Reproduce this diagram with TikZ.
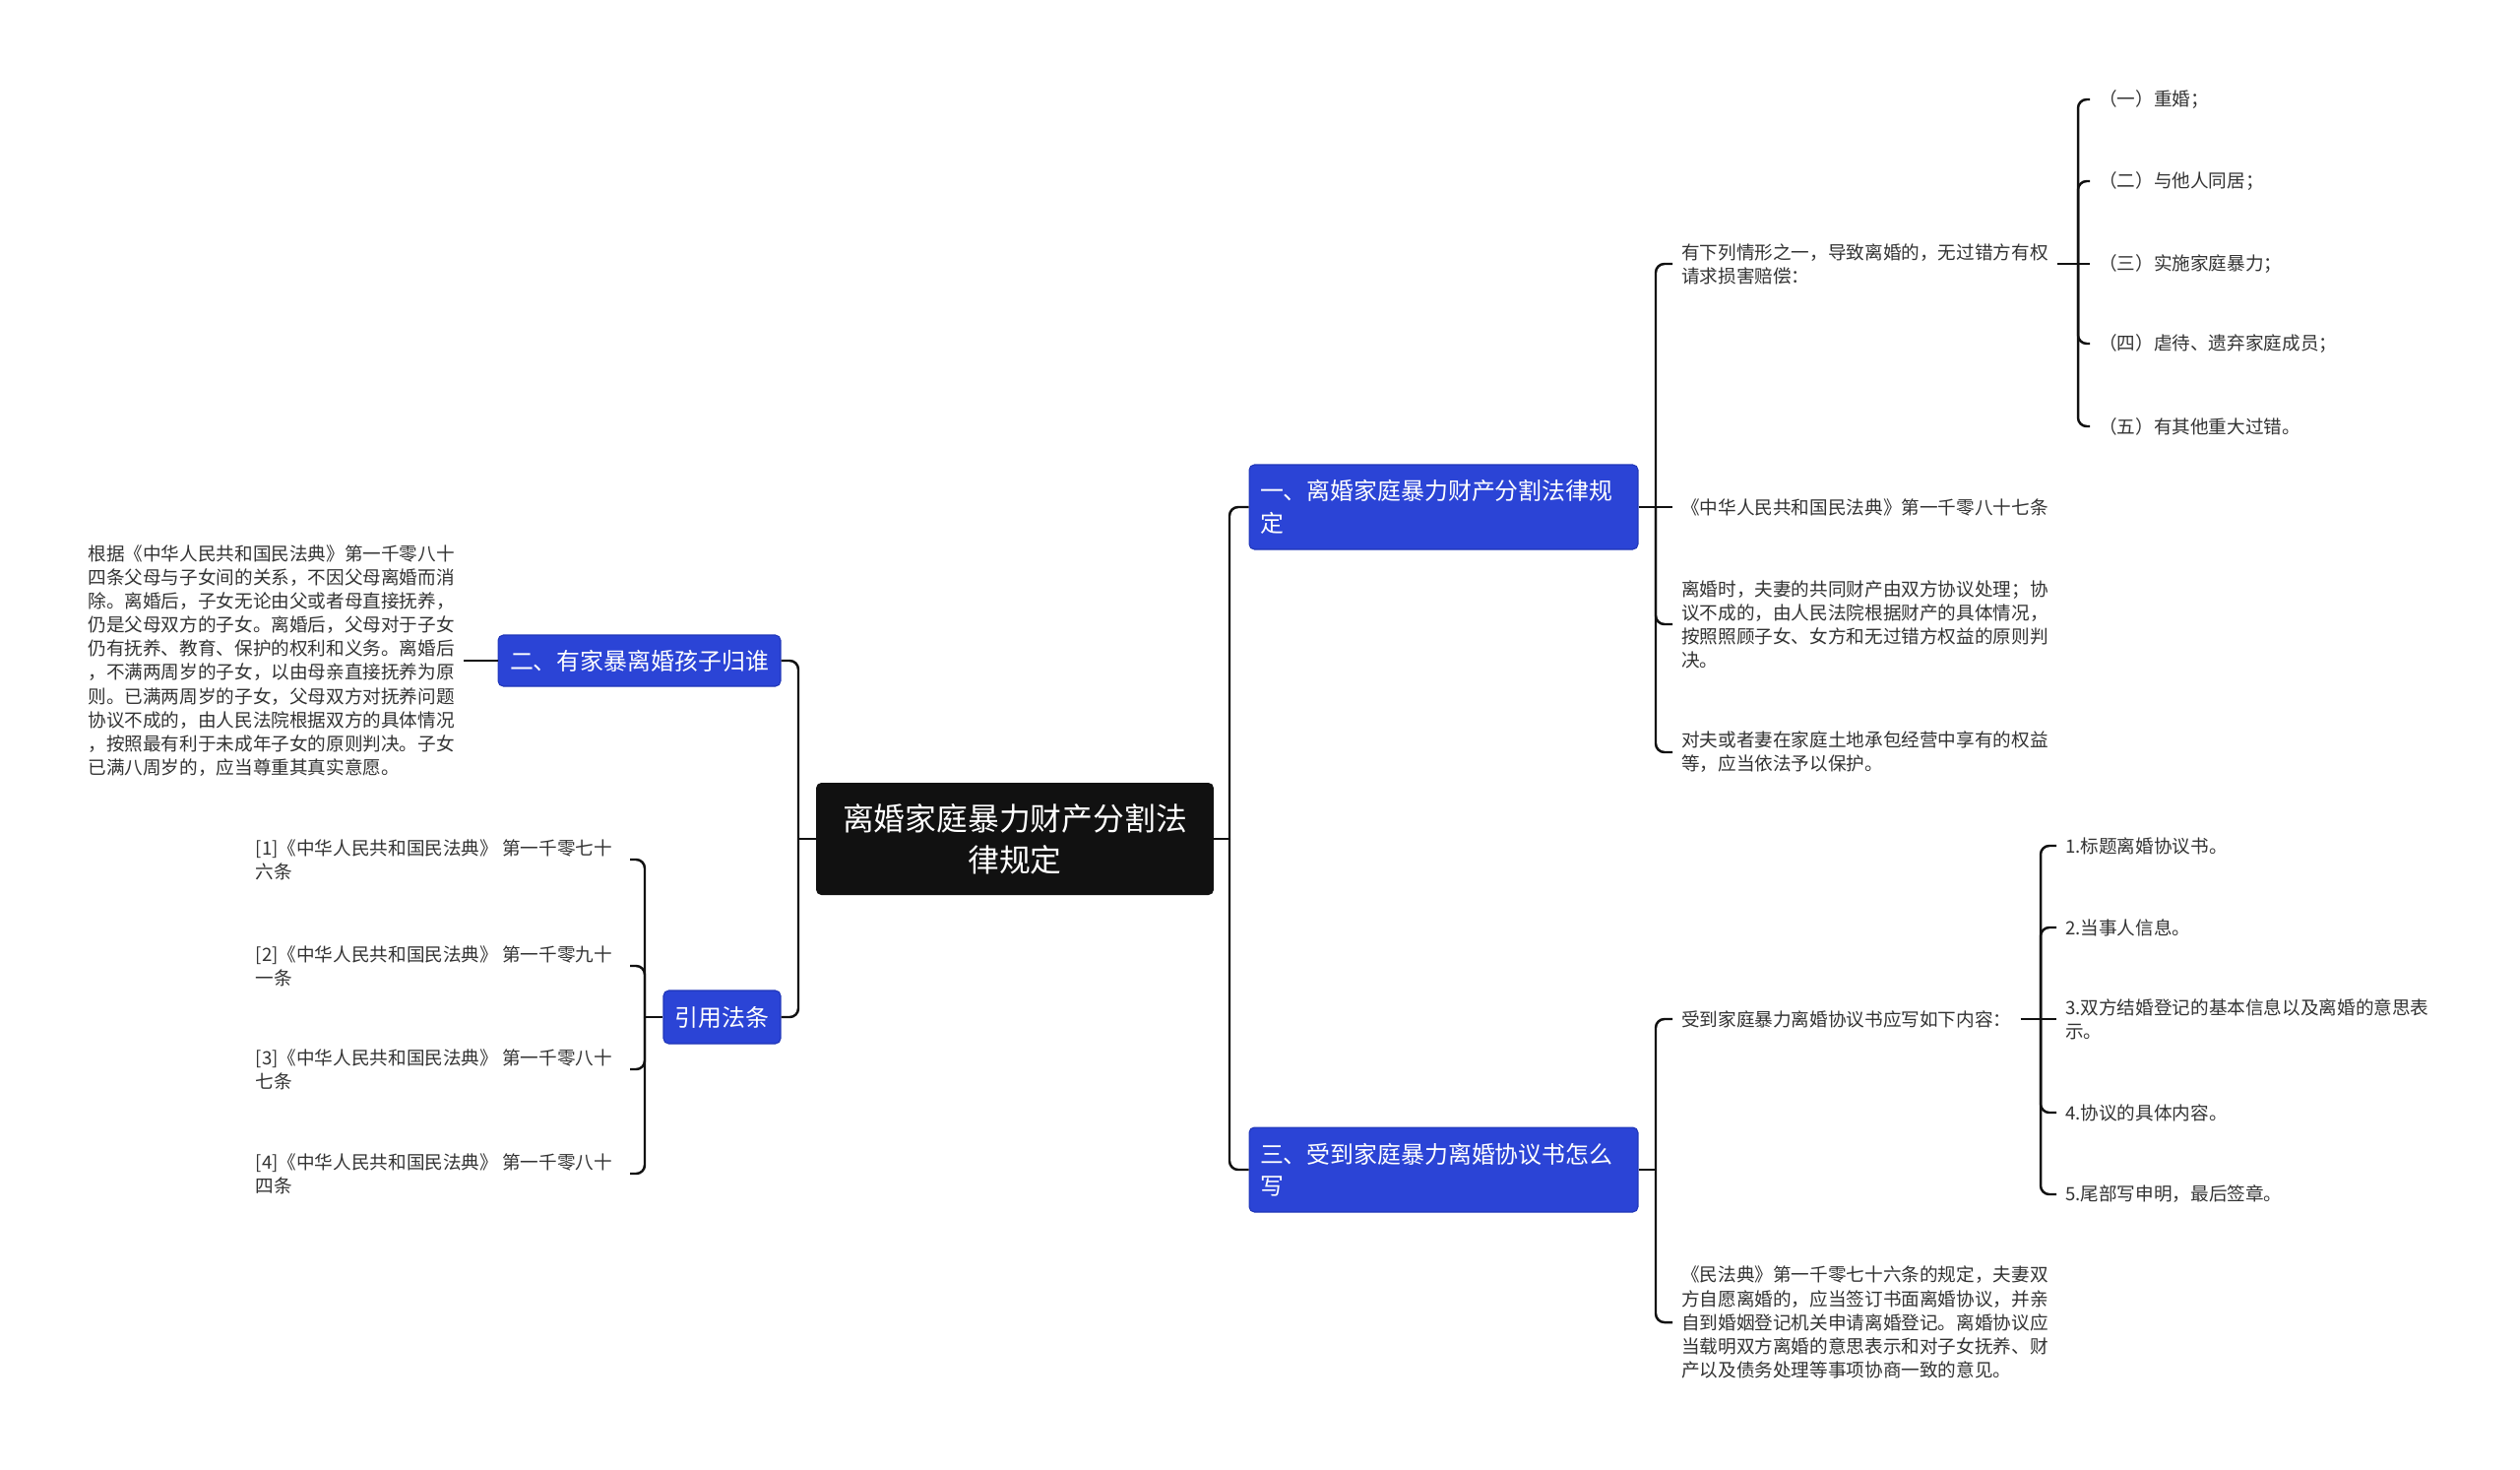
\documentclass[tikz,border=0pt]{standalone}
\usepackage{fontspec}
\setmainfont{Noto Sans CJK SC}
\usepackage{tikz}

\definecolor{mapblue}{HTML}{2B44D6}
\definecolor{mapedge}{HTML}{1F35B8}
\definecolor{mapink}{HTML}{111111}
\definecolor{leafink}{HTML}{333333}

\begin{document}
\begin{tikzpicture}[x=0.02cm,y=-0.02cm,
  conn/.style={line width=1.4pt,draw=mapink,rounded corners=5pt},
  rootbox/.style={fill=mapink,text=white,rounded corners=3pt,minimum width=8.08cm,minimum height=2.28cm,align=center,font=\fontsize{18.1}{24}\selectfont},
  topic/.style={fill=mapblue,draw=mapedge,line width=0.6pt,text=white,rounded corners=3pt,font=\fontsize{13.6}{18.5}\selectfont},
  leaf/.style={text=leafink,align=left,inner xsep=5pt,inner ysep=2pt,font=\fontsize{10.6}{13.7}\selectfont}]
\useasboundingbox (0,0) rectangle (2560,1492);

% root and main topics
\node[rootbox] (root) at (1031,852) {离婚家庭暴力财产分割法\\律规定};
\node[topic,text width=7.46cm,minimum height=1.72cm,inner xsep=0.22cm,align=left] (law) at (1466.5,515) {一、离婚家庭暴力财产分割法律规\\定};
\node[topic,text width=7.46cm,minimum height=1.72cm,inner xsep=0.22cm,align=left] (write) at (1466.5,1188) {三、受到家庭暴力离婚协议书怎么\\写};
\node[topic,minimum width=5.74cm,minimum height=1.04cm] (kids) at (649.5,671) {二、有家暴离婚孩子归谁};
\node[topic,minimum width=2.38cm,minimum height=1.08cm] (cite) at (733.5,1033) {引用法条};

\coordinate (rt) at (1249,852);
\coordinate (lt) at (811,852);
\draw[conn] (root.east) -- (rt);
\draw[conn] (rt) |- (law.west);
\draw[conn] (rt) |- (write.west);
\draw[conn] (root.west) -- (lt);
\draw[conn] (lt) |- (kids.east);
\draw[conn] (lt) |- (cite.east);

% first topic
\node[leaf,anchor=west] (harm) at (1699,268) {有下列情形之一，导致离婚的，无过错方有权\\请求损害赔偿：};
\node[leaf,anchor=west] (art87) at (1699,515) {《中华人民共和国民法典》第一千零八十七条};
\node[leaf,anchor=west] (split) at (1699,634) {离婚时，夫妻的共同财产由双方协议处理；协\\议不成的，由人民法院根据财产的具体情况，\\按照照顾子女、女方和无过错方权益的原则判\\决。};
\node[leaf,anchor=west] (land) at (1699,764) {对夫或者妻在家庭土地承包经营中享有的权益\\等，应当依法予以保护。};
\coordinate (t1) at (1682,515);
\draw[conn] (law.east) -- (art87.west);
\foreach \n in {harm,split,land}
  \draw[conn] (t1) |- (\n.west);

\node[leaf,anchor=west] (h1) at (2123,101) {（一）重婚；};
\node[leaf,anchor=west] (h2) at (2123,184) {（二）与他人同居；};
\node[leaf,anchor=west] (h3) at (2123,268) {（三）实施家庭暴力；};
\node[leaf,anchor=west] (h4) at (2123,349) {（四）虐待、遗弃家庭成员；};
\node[leaf,anchor=west] (h5) at (2123,433) {（五）有其他重大过错。};
\coordinate (t11) at (2111,268);
\draw[conn] (harm.east) -- (h3.west);
\foreach \n in {h1,h2,h4,h5}
  \draw[conn] (t11) |- (\n.west);

% third topic
\node[leaf,anchor=west] (form) at (1699,1035) {受到家庭暴力离婚协议书应写如下内容：};
\node[leaf,anchor=west] (code) at (1699,1343) {《民法典》第一千零七十六条的规定，夫妻双\\方自愿离婚的，应当签订书面离婚协议，并亲\\自到婚姻登记机关申请离婚登记。离婚协议应\\当载明双方离婚的意思表示和对子女抚养、财\\产以及债务处理等事项协商一致的意见。};
\coordinate (t3) at (1682,1188);
\draw[conn] (write.east) -- (t3);
\foreach \n in {form,code}
  \draw[conn] (t3) |- (\n.west);

\node[leaf,anchor=west] (f1) at (2089,859) {1.标题离婚协议书。};
\node[leaf,anchor=west] (f2) at (2089,942) {2.当事人信息。};
\node[leaf,anchor=west] (f3) at (2089,1035) {3.双方结婚登记的基本信息以及离婚的意思表\\示。};
\node[leaf,anchor=west] (f4) at (2089,1130) {4.协议的具体内容。};
\node[leaf,anchor=west] (f5) at (2089,1213) {5.尾部写申明，最后签章。};
\coordinate (t31) at (2073,1035);
\draw[conn] (form.east) -- (f3.west);
\foreach \n in {f1,f2,f4,f5}
  \draw[conn] (t31) |- (\n.west);

% left side
\node[leaf,anchor=east] (custody) at (471,671) {根据《中华人民共和国民法典》第一千零八十\\四条父母与子女间的关系，不因父母离婚而消\\除。离婚后，子女无论由父或者母直接抚养，\\仍是父母双方的子女。离婚后，父母对于子女\\仍有抚养、教育、保护的权利和义务。离婚后\\，不满两周岁的子女，以由母亲直接抚养为原\\则。已满两周岁的子女，父母双方对抚养问题\\协议不成的，由人民法院根据双方的具体情况\\，按照最有利于未成年子女的原则判决。子女\\已满八周岁的，应当尊重其真实意愿。};
\draw[conn] (kids.west) -- (custody.east);

\node[leaf,anchor=east,inner xsep=10pt] (r1) at (640,873) {[1]《中华人民共和国民法典》 第一千零七十\\六条};
\node[leaf,anchor=east,inner xsep=10pt] (r2) at (640,981) {[2]《中华人民共和国民法典》 第一千零九十\\一条};
\node[leaf,anchor=east,inner xsep=10pt] (r3) at (640,1086) {[3]《中华人民共和国民法典》 第一千零八十\\七条};
\node[leaf,anchor=east,inner xsep=10pt] (r4) at (640,1192) {[4]《中华人民共和国民法典》 第一千零八十\\四条};
\coordinate (t4) at (655,1033);
\draw[conn] (cite.west) -- (t4);
\foreach \n in {r1,r2,r3,r4}
  \draw[conn] (t4) |- (\n.east);
\end{tikzpicture}
\end{document}
